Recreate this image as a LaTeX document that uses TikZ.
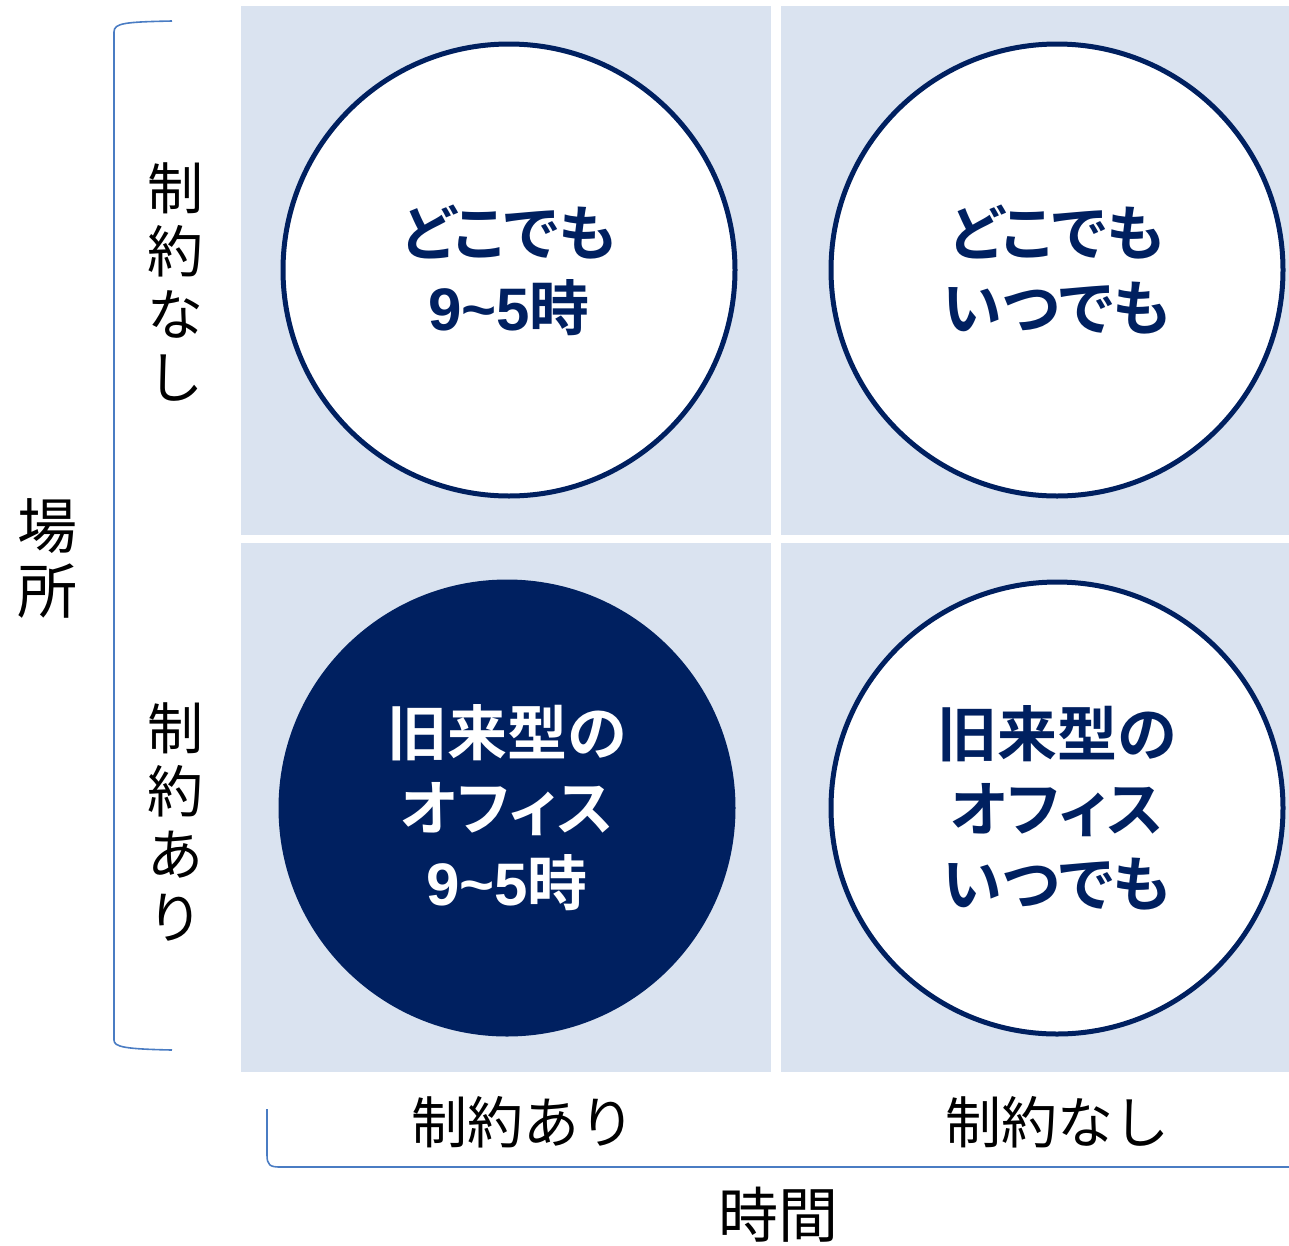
\documentclass[tikz,border=0pt]{standalone}
\usepackage{fontspec}
\setmainfont{Noto Sans CJK JP}
\newfontfamily\cjkbold[RawFeature={+palt}]{Noto Sans CJK JP Bold}
\newfontfamily\cjkreg{Noto Sans CJK JP}
\newfontfamily\latbold{Liberation Sans Bold}
\newcommand{\ninefive}{{\latbold 9\char"007E 5}時}
\definecolor{navy}{HTML}{002060}
\definecolor{panel}{HTML}{DAE3F0}
\definecolor{brk}{HTML}{4A7CC3}
\begin{document}
\begin{tikzpicture}[x=1pt,y=-1pt,
  quad/.style={circle,draw=navy,line width=5pt,fill=white,minimum size=452pt,inner sep=0pt,
     align=center,text=navy,font=\cjkbold\fontsize{60}{75}\selectfont},
  quaddark/.style={quad,fill=navy,text=white},
  lab/.style={font=\cjkreg\fontsize{56}{63}\selectfont,align=center,text=black,inner sep=0pt},
  brace/.style={draw=brk,line width=1.6pt}]
\useasboundingbox (0,0) rectangle (1289,1245);
% panels
\fill[panel] (241,6) rectangle (771,535);
\fill[panel] (781,6) rectangle (1289,535);
\fill[panel] (241,543) rectangle (771,1072);
\fill[panel] (781,543) rectangle (1289,1072);
% circles
\node[quad] (tl) at (509,270) {どこでも\\\ninefive};
\node[quad] (tr) at (1057,270) {どこでも\\いつでも};
\node[quaddark] (bl) at (507,808) {旧来型の\\オフィス\\\ninefive};
\node[quad] (br) at (1057,808) {旧来型の\\オフィス\\いつでも};
% brackets
\coordinate (lb1) at (172,21);
\coordinate (lb2) at (172,1050);
\draw[brace] (lb1) .. controls (125,22) and (114,23) .. (114,32) -- (114,1040) .. controls (114,1047) and (125,1049) .. (lb2);
\coordinate (bb1) at (267,1109);
\coordinate (bb2) at (1289,1167);
\draw[brace] (bb1) -- (267,1155) .. controls (267,1165) and (270,1167) .. (280,1167) -- (bb2);
% labels
\node[lab,font=\cjkreg\fontsize{60}{65}\selectfont] (place) at (47,558) {場\\所};
\node[lab] (pnone) at (175,282) {制\\約\\な\\し};
\node[lab] (pyes) at (175,822) {制\\約\\あ\\り};
\node[lab] (tyes) at (523,1122) {制約あり};
\node[lab] (tnone) at (1057,1122) {制約なし};
\node[lab,font=\cjkreg\fontsize{60}{65}\selectfont] (time) at (778,1215) {時間};
\end{tikzpicture}
\end{document}
